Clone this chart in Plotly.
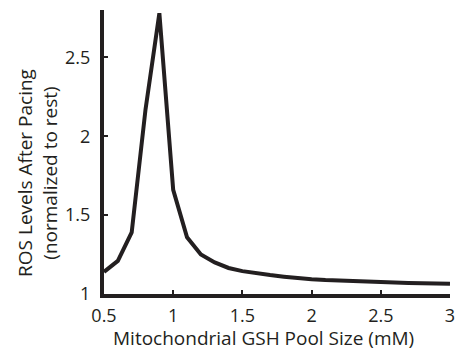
import plotly.graph_objects as go

gsh_mM = [0.5, 0.6, 0.7, 0.8, 0.9, 1.0, 1.1, 1.2, 1.3, 1.4, 1.5, 1.6, 1.7, 1.8,
          1.9, 2.0, 2.1, 2.2, 2.3, 2.4, 2.5, 2.6, 2.7, 2.8, 2.9, 3.0]
ros_norm = [1.14, 1.21, 1.39, 2.17, 2.78, 1.66, 1.36, 1.25, 1.20, 1.165, 1.145,
            1.13, 1.12, 1.11, 1.10, 1.093, 1.088, 1.084, 1.080, 1.077, 1.075,
            1.072, 1.070, 1.068, 1.066, 1.065]

x_ticks = [0.5, 1, 1.5, 2, 2.5, 3]
x_ticklabels = ["0.5", "1", "1.5", "2", "2.5", "3"]
y_ticks = [1, 1.5, 2, 2.5]
y_ticklabels = ["1", "1.5", "2", "2.5"]

ink = "#231f20"
font_family = "Open Sans, Lato, sans-serif"

fig = go.Figure()
fig.add_trace(go.Scatter(x=gsh_mM, y=ros_norm, mode="lines",
                         line=dict(color=ink, width=4), showlegend=False))

fig.update_layout(
    width=460, height=354,
    margin=dict(l=104, r=5, t=10, b=60),
    paper_bgcolor="white", plot_bgcolor="white",
    font=dict(family=font_family, color=ink, size=16),
    xaxis=dict(range=[0.5, 3], tickvals=x_ticks, ticktext=x_ticklabels,
               showgrid=False, zeroline=False, showline=True, linewidth=4,
               linecolor=ink, ticks="inside", ticklen=4, tickwidth=2,
               tickcolor=ink, tickfont=dict(size=18), ticklabelstandoff=2,
               ticklabeloverflow="allow"),
    yaxis=dict(range=[1, 2.8], tickvals=y_ticks, ticktext=y_ticklabels,
               showgrid=False, zeroline=False, showline=True, linewidth=4,
               linecolor=ink, ticks="inside", ticklen=4, tickwidth=2,
               tickcolor=ink, tickfont=dict(size=18), ticklabelstandoff=6,
               ticklabeloverflow="allow"),
    annotations=[
        dict(text="Mitochondrial GSH Pool Size (mM)", xref="paper", yref="paper",
             x=0.4615, y=-0.102,
             xanchor="center", yanchor="top", showarrow=False,
             font=dict(size=19)),
        dict(text="ROS Levels After Pacing<br>(normalized to rest)",
             xref="paper", yref="paper", x=-0.194, y=0.426,
             xanchor="center", yanchor="middle", textangle=-90,
             showarrow=False, font=dict(size=19)),
    ],
)

fig.write_html("out.html")
